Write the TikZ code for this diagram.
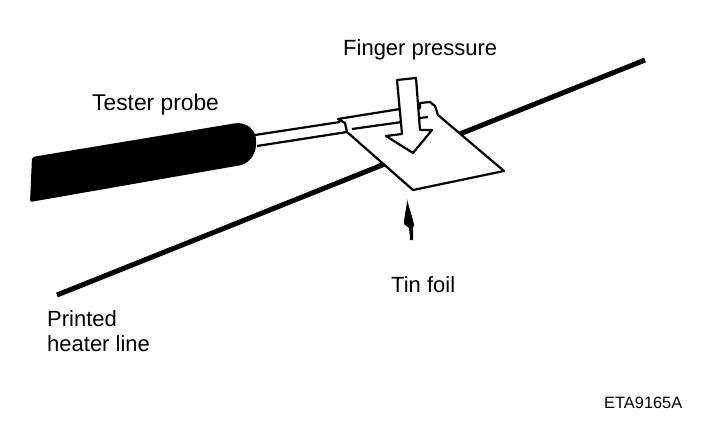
\documentclass[tikz,border=0pt]{standalone}
\usepackage{fontspec}
\setmainfont{Liberation Sans}
\usetikzlibrary{positioning, arrows}
\tikzset{
    inkline/.style={draw=black, line width=2.2pt, line join=round},
    label/.style={inner sep=0pt, align=left, font=\fontsize{22}{25}\selectfont},
}
\begin{document}
\begin{tikzpicture}[x=1pt, y=-1pt]
    \useasboundingbox (0,0) rectangle (704,436);
    \draw[line width=5pt] (57,295) -- (645,60);
    \fill[rounded corners=2pt] (32,157) -- (237,123) .. controls (250,124) and (256,132) .. (256,142) .. controls (256,152) and (252,160) .. (242,165) -- (30,202) -- cycle;
    \draw[inkline] (255,135) -- (340,122);
    \draw[inkline] (257,146) -- (347,132);
    \draw[inkline, fill=white] (338,119) -- (345,123) -- (347,132) -- (413,190) -- (504,171) -- (438,115) -- (435,106) -- (430,102) -- (420,103) -- (420,108) -- (400,109) -- cycle;
    \draw[inkline] (352,129) -- (402,122);
    \draw[inkline] (420,118) -- (428,117);
    \draw[inkline, fill=white] (397,80) -- (416,78) -- (420,130) -- (432,130) -- (413,153) -- (386,136) -- (402,134) -- cycle;
    \fill (407,199) .. controls (409,208) and (413,218) .. (414,225) -- (413,228) .. controls (413,232) and (413,236) .. (413,240) -- (410,240) .. controls (410,234) and (409,231) .. (409,228) -- (404,224) .. controls (404,215) and (407,208) .. (407,199) -- cycle;
    \node (fingerlabel) at (343,50) [label, anchor=west] {Finger pressure};
    \node (probelabel) at (92,105) [label, anchor=west, font=\fontsize{22.8}{25}\selectfont] {Tester probe};
    \node (foillabel) at (391,285) [label, anchor=west] {Tin foil};
    \node (linelabel) at (47,331) [label, anchor=west] {Printed\\heater line};
    \node (codelabel) at (604,403) [label, anchor=west, font=\fontsize{16.4}{18}\selectfont] {ETA9165A};
\end{tikzpicture}
\end{document}
